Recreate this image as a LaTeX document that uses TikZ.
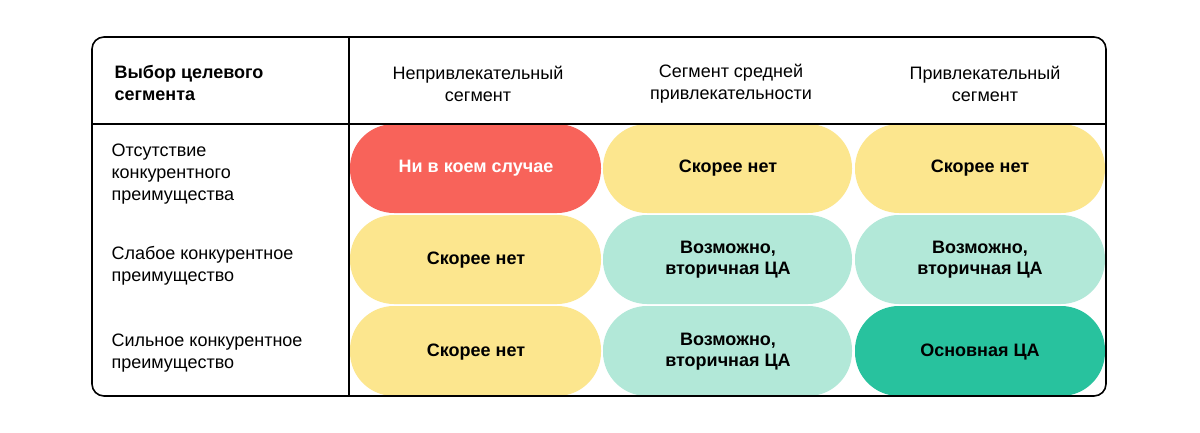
\documentclass[tikz,border=0pt]{standalone}
\usepackage{fontspec}
\setmainfont{Liberation Sans}
\begin{document}
\begin{tikzpicture}[x=1pt,y=-1pt,
  pill/.style={rounded corners=44pt,inner sep=0pt},
  ptxt/.style={font=\fontsize{18}{21}\selectfont\bfseries,align=center},
  htxt/.style={font=\fontsize{18}{22}\selectfont,align=center},
  rtxt/.style={font=\fontsize{18}{22}\selectfont,align=left,anchor=west}]
\definecolor{cred}{HTML}{F8635A}
\definecolor{cyel}{HTML}{FCE68E}
\definecolor{cmint}{HTML}{B2E8D8}
\definecolor{cteal}{HTML}{28C29E}
\useasboundingbox (0,0) rectangle (1200,433);
\fill[white] (0,0) rectangle (1200,433);
% pills
\newcommand\pl[6]{\fill[#5,rounded corners=44pt] (#1,#2) rectangle (#3,#4); \node[ptxt#6] at ({(#1+#3)/2},{(#2+#4)/2}) {};}
\fill[cred,rounded corners=44pt] (350,124) rectangle (601,213);
\fill[cyel,rounded corners=44pt] (603,124) rectangle (852,213);
\fill[cyel,rounded corners=44pt] (855,124) rectangle (1105,213);
\fill[cyel,rounded corners=44pt] (350,215) rectangle (601,304);
\fill[cmint,rounded corners=44pt] (603,215) rectangle (852,304);
\fill[cmint,rounded corners=44pt] (855,215) rectangle (1105,304);
\fill[cyel,rounded corners=44pt] (350,306) rectangle (601,396);
\fill[cmint,rounded corners=44pt] (603,306) rectangle (852,396);
\fill[cteal,rounded corners=44pt] (855,306) rectangle (1105,396);
\node[ptxt,text=white] (p11) at (476,168) {Ни в коем случае};
\node[ptxt] (p12) at (728,168) {Скорее нет};
\node[ptxt] (p13) at (980,168) {Скорее нет};
\node[ptxt] (p21) at (476,260) {Скорее нет};
\node[ptxt] (p22) at (728,260) {Возможно,\\вторичная ЦА};
\node[ptxt] (p23) at (980,260) {Возможно,\\вторичная ЦА};
\node[ptxt] (p31) at (476,352) {Скорее нет};
\node[ptxt] (p32) at (728,352) {Возможно,\\вторичная ЦА};
\node[ptxt] (p33) at (980,352) {Основная ЦА};
% frame
\draw[line width=1.6pt,rounded corners=12pt] (92,37) rectangle (1106,396);
\draw[line width=1.6pt] (349,37) -- (349,396);
\draw[line width=1.6pt] (92,124) -- (1106,124);
% headers
\node[rtxt,font=\fontsize{18}{22}\selectfont\bfseries] (h0) at (111,83) {Выбор целевого\\сегмента};
\node[htxt] (h1) at (478,84) {Непривлекательный\\сегмент};
\node[htxt] (h2) at (731,84) {Сегмент средней\\привлекательности};
\node[htxt] (h3) at (985,84) {Привлекательный\\сегмент};
\node[rtxt] (r1) at (108,174) {Отсутствие\\конкурентного\\преимущества};
\node[rtxt] (r2) at (108,266) {Слабое конкурентное\\преимущество};
\node[rtxt] (r3) at (108,353) {Сильное конкурентное\\преимущество};
\end{tikzpicture}
\end{document}
